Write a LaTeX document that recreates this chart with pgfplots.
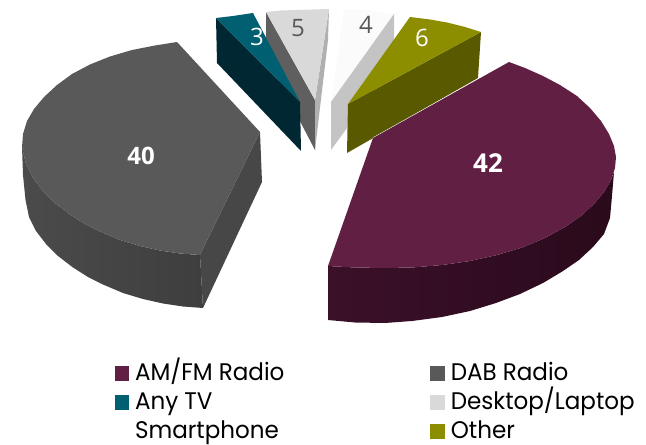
\documentclass[border=0pt]{standalone}
\usepackage{pgfplots}
\pgfplotsset{compat=1.18}
\usepackage{fontspec}
\setmainfont{Open Sans}
\newfontfamily\legfont[FakeStretch=0.96]{Poppins}
\definecolor{amfm}{HTML}{621F44}
\definecolor{amfmwallL}{HTML}{3B1029}
\definecolor{amfmwallR}{HTML}{2A0A1B}
\definecolor{dab}{HTML}{595959}
\definecolor{dabwallL}{HTML}{4B4B4B}
\definecolor{dabwallM}{HTML}{3E3E3E}
\definecolor{dabcut}{HTML}{474747}
\definecolor{tv}{HTML}{005F70}
\definecolor{tvwall}{HTML}{012832}
\definecolor{desk}{HTML}{D9D9D9}
\definecolor{deskL}{HTML}{5F5F5F}
\definecolor{deskR}{HTML}{B0B0B0}
\definecolor{phone}{HTML}{FBFBFB}
\definecolor{phonewall}{HTML}{C4C4C4}
\definecolor{other}{HTML}{8C8E00}
\definecolor{otherwall}{HTML}{595A00}
\begin{document}
\begin{tikzpicture}
\begin{axis}[
  scale only axis, width=646bp, height=445bp,
  xmin=0, xmax=646, ymin=0, ymax=445, y dir=reverse,
  hide axis, clip=false,
  legend cell align=left,
  legend columns=2,
  legend style={at={(axis cs:114.5,360)}, anchor=north west, draw=none, fill=none,
    font=\legfont\fontsize{24bp}{26bp}\selectfont, inner sep=0pt,
    row sep=4bp,
    nodes={text height=20bp, text depth=5.3bp, inner sep=0pt, outer sep=0pt},
    /tikz/every odd column/.append style={column sep=6.5bp},
    /tikz/every even column/.append style={column sep=146bp}},
]
\addplot[draw=none, forget plot] coordinates {(0,0) (646,445)};

% white slice (4)
\addplot[fill=phone, draw=none, forget plot] coordinates {(344,9) (369,10) (394,14) (331,102)} --cycle;
\addplot[fill=phonewall, draw=none, forget plot] coordinates {(394,14) (394,64) (331,150) (331,102)} --cycle;

% grey slice (5)
\addplot[fill=deskL, draw=none, forget plot] coordinates {(266,12) (266,56) (315,150) (315,100)} --cycle;
\addplot[fill=deskR, draw=none, forget plot] coordinates {(329,9) (328,40) (315,150) (315,100)} --cycle;
\addplot[fill=desk, draw=none, forget plot] coordinates {(266,12) (281,10.5) (297,10) (313,9.5) (329,9) (315,100)} --cycle;

% teal slice (3)
\addplot[fill=tvwall, draw=none, forget plot] coordinates {(216,18) (217,63) (301,151) (300,102)} --cycle;
\addplot[fill=tv, draw=none, forget plot] coordinates {(216,18) (233,16) (253,13) (300,102)} --cycle;

% olive slice (6)
\addplot[fill=otherwall, draw=none, forget plot] coordinates {(348,104) (347,153) (478,78) (481,32)} --cycle;
\addplot[fill=other, draw=none, forget plot] coordinates {(410,17) (430,19.5) (447,22.5) (465,27) (481,32) (348,104)} --cycle;

% DAB slice (40)
\addplot[shade, left color=dabwallL, right color=dabwallM, draw=none, forget plot] coordinates {
  (22,147) (23,175) (25.5,200) (29,217) (36,231) (46,244) (58,256) (73,267.5) (88,277) (103,284.5) (123,293) (143,299) (163,303.5) (183,306.5) (203,308)
  (200,255) (180,253.5) (160,250.5) (140,246) (120,240) (100,231.5) (85,224) (70,214.5) (55,203) (43,191) (33,178) (26,164)} --cycle;
\addplot[fill=dabcut, draw=none, forget plot] coordinates {(200,255) (203,308) (262,182) (260,132)} --cycle;
\addplot[fill=dab, draw=none, forget plot] coordinates {
  (260,132) (200,255) (180,253.5) (160,250.5) (140,246) (120,240) (100,231.5) (85,224) (70,214.5) (55,203) (43,191) (33,178) (26,164) (22,147)
  (23,134) (27,121) (34,109) (44,97) (57,85) (72,74) (90,64.5) (110,56.5) (132,50) (155,45.5) (177,42)} --cycle;

% AM/FM slice (42)
\addplot[shade, left color=amfmwallL, right color=amfmwallR, draw=none, forget plot] coordinates {
  (328,266) (328,320) (355,322.5) (385,323) (412,321) (442,317) (470,311) (496,303) (520,294) (543,283) (563,271) (579,260) (593,247) (604,234) (610,218) (612,196) (614,172)
  (611,180) (604,192) (594,204) (581,216) (565,227) (545,238) (522,247.5) (497,255) (470,261) (442,265) (412,267.5) (385,268) (355,267.5)} --cycle;
\addplot[draw=white, line width=1bp, forget plot] coordinates {(373,138) (480,78)};
\addplot[fill=amfm, draw=none, forget plot] coordinates {
  (373,138) (509,62) (525,68) (543,76) (560,85) (577,96) (590,108) (601,121) (609,134) (614,146) (616,157) (615,168) (611,180) (604,192) (594,204) (581,216)
  (565,227) (545,238) (522,247.5) (497,255) (470,261) (442,265) (412,267.5) (385,268) (355,267.5) (328,266)} --cycle;

% legend
\addlegendimage{only marks, mark=square*, mark size=6.9bp, color=amfm}
\addlegendentry{AM/FM Radio}
\addlegendimage{only marks, mark=square*, mark size=6.9bp, color=dab}
\addlegendentry{DAB Radio}
\addlegendimage{only marks, mark=square*, mark size=6.9bp, color=tv}
\addlegendentry{Any TV}
\addlegendimage{only marks, mark=square*, mark size=6.9bp, color=desk}
\addlegendentry{Desktop/Laptop}
\addlegendimage{only marks, mark=square*, mark size=6.9bp, color=white}
\addlegendentry{Smartphone}
\addlegendimage{only marks, mark=square*, mark size=6.9bp, color=other}
\addlegendentry{Other}

% value labels
\node[text=white, font=\bfseries\fontsize{24bp}{26bp}\selectfont] at (axis cs:141,156) {40};
\node[text=white, font=\bfseries\fontsize{26bp}{28bp}\selectfont] at (axis cs:488,163) {42};
\node[text=white, font=\fontsize{24bp}{26bp}\selectfont] at (axis cs:257,37) {3};
\node[text=dab, font=\fontsize{24bp}{26bp}\selectfont] at (axis cs:298,28) {5};
\node[text=dab, font=\fontsize{24bp}{26bp}\selectfont] at (axis cs:366,25) {4};
\node[text=white, font=\fontsize{24bp}{26bp}\selectfont] at (axis cs:422,38) {6};
\end{axis}
\end{tikzpicture}
\end{document}
